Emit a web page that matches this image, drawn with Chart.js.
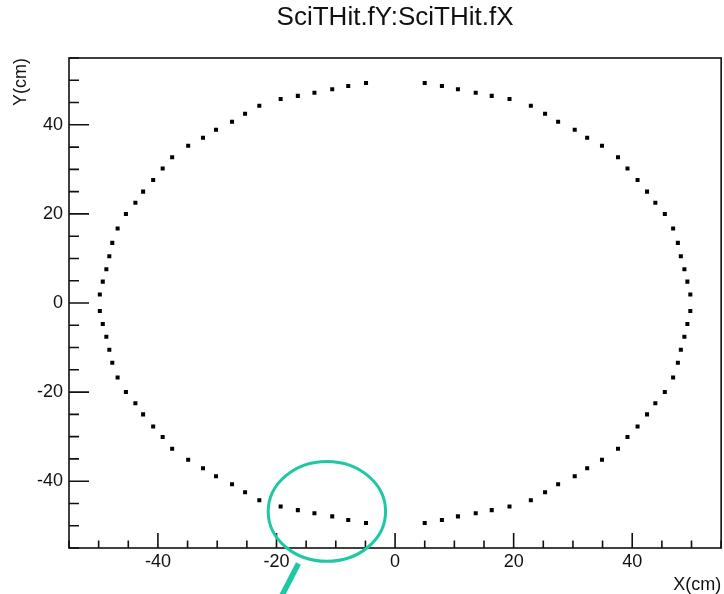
<!DOCTYPE html>
<html>
<head>
<meta charset="utf-8">
<script src="https://cdn.jsdelivr.net/npm/chart.js@4"></script>
<style>html,body{margin:0;padding:0;background:#fff}canvas{display:block}</style>
</head>
<body>
<canvas id="c" width="724" height="594"></canvas>
<script>
const chartTitle = 'SciTHit.fY:SciTHit.fX';
const xAxisTitle = 'X(cm)';
const yAxisTitle = 'Y(cm)';
const xTickValues = [-40, -20, 0, 20, 40];
const yTickValues = [-40, -20, 0, 20, 40];

// left half of the hit ring (top to bottom)
const leftX = [-4.9, -7.9, -10.6, -13.6, -16.4, -19.3, -22.9, -25.3, -27.5, -30.2, -32.4, -34.9,
  -37.6, -39.2, -40.8, -42.5, -43.8, -45.4, -46.8, -47.7, -48.2, -48.7, -49.3, -49.8,
  -49.8, -49.3, -48.7, -48.2, -47.7, -46.8, -45.4, -43.8, -42.5, -40.8, -39.2, -37.6,
  -34.9, -32.4, -30.2, -27.5, -25.3, -22.9, -19.3, -16.4, -13.6, -10.6, -7.9, -4.9];
const leftY = [49.4, 48.7, 48.0, 47.2, 46.5, 45.8, 44.3, 42.5, 40.7, 38.9, 37.1, 35.3,
  32.7, 30.2, 27.6, 25.0, 22.5, 20.0, 16.7, 13.5, 10.5, 7.6, 4.8, 1.9,
  -1.8, -4.7, -7.6, -10.5, -13.4, -16.7, -20.0, -22.5, -25.0, -27.7, -30.1, -32.7,
  -35.2, -37.1, -38.9, -40.7, -42.5, -44.3, -45.7, -46.5, -47.2, -47.9, -48.7, -49.4];
// right half of the hit ring (top to bottom)
const rightX = [5.0, 7.9, 10.6, 13.6, 16.3, 19.3, 22.9, 25.3, 27.5, 30.3, 32.4, 34.9,
  37.6, 39.2, 40.9, 42.5, 43.9, 45.5, 46.9, 47.7, 48.2, 48.8, 49.3, 49.8,
  49.8, 49.3, 48.8, 48.2, 47.7, 46.9, 45.5, 43.9, 42.5, 40.9, 39.2, 37.6,
  34.9, 32.4, 30.3, 27.5, 25.3, 22.9, 19.3, 16.3, 13.6, 10.6, 7.9, 5.0];
const rightY = [49.4, 48.7, 48.0, 47.2, 46.5, 45.8, 44.3, 42.5, 40.7, 38.9, 37.1, 35.3,
  32.7, 30.2, 27.6, 25.0, 22.5, 20.0, 16.7, 13.5, 10.5, 7.6, 4.8, 1.9,
  -1.8, -4.7, -7.6, -10.5, -13.4, -16.7, -20.0, -22.5, -25.0, -27.7, -30.1, -32.7,
  -35.2, -37.1, -38.9, -40.7, -42.5, -44.3, -45.7, -46.5, -47.2, -47.9, -48.7, -49.4];

// highlight annotation (data units)
const highlightEllipse = { cx: -11.5, cy: -46.8, rx: 9.9, ry: 11.2 };
const pointerLine = { x1: -16.3, y1: -58.5, x2: -19.8, y2: -67.5 };

const FONT = "'Liberation Sans', Arial, Helvetica, sans-serif";
const INK = '#111';
const TEAL = '#1ec8a2';

const points = leftX.map((x, i) => ({ x, y: leftY[i] }))
  .concat(rightX.map((x, i) => ({ x, y: rightY[i] })));

const frameTicks = {
  id: 'frameTicks',
  afterDatasetsDraw(chart) {
    const { ctx, chartArea: a, scales: { x, y } } = chart;
    ctx.save();
    ctx.strokeStyle = INK;
    ctx.lineWidth = 1.6;
    ctx.strokeRect(a.left, a.top, a.right - a.left, a.bottom - a.top);
    ctx.beginPath();
    for (let v = Math.ceil(x.min / 5) * 5; v <= x.max; v += 5) {
      const px = x.getPixelForValue(v);
      const len = (v % 20 === 0) ? 15 : 7.5;
      ctx.moveTo(px, a.bottom);
      ctx.lineTo(px, a.bottom - len);
    }
    for (let v = Math.ceil(y.min / 5) * 5; v <= y.max; v += 5) {
      const py = y.getPixelForValue(v);
      const len = (v % 20 === 0) ? 20 : 10;
      ctx.moveTo(a.left, py);
      ctx.lineTo(a.left + len, py);
    }
    ctx.stroke();

    // teal highlight
    const e = highlightEllipse;
    const ecx = x.getPixelForValue(e.cx), ecy = y.getPixelForValue(e.cy);
    const erx = Math.abs(x.getPixelForValue(e.cx + e.rx) - ecx);
    const ery = Math.abs(y.getPixelForValue(e.cy + e.ry) - ecy);
    ctx.strokeStyle = TEAL;
    ctx.lineWidth = 3;
    ctx.beginPath();
    ctx.ellipse(ecx, ecy, erx, ery, 0, 0, Math.PI * 2);
    ctx.stroke();
    ctx.lineWidth = 5.5;
    ctx.lineCap = 'butt';
    ctx.beginPath();
    ctx.moveTo(x.getPixelForValue(pointerLine.x1), y.getPixelForValue(pointerLine.y1));
    ctx.lineTo(x.getPixelForValue(pointerLine.x2), y.getPixelForValue(pointerLine.y2));
    ctx.stroke();
    ctx.restore();
  }
};

new Chart(document.getElementById('c'), {
  type: 'scatter',
  data: {
    datasets: [{
      data: points,
      pointStyle: 'rect',
      pointRadius: 2.85,
      pointHoverRadius: 2.85,
      pointBackgroundColor: '#000',
      pointBorderWidth: 0,
      showLine: false
    }]
  },
  options: {
    responsive: false,
    animation: false,
    events: [],
    layout: { padding: { left: 0, right: 1, top: 0, bottom: 0 } },
    plugins: {
      legend: { display: false },
      tooltip: { enabled: false },
      title: {
        display: true,
        fullSize: false,
        text: chartTitle,
        color: INK,
        font: { family: FONT, size: 26, weight: 'normal' },
        padding: { top: 2, bottom: 24.8 }
      }
    },
    scales: {
      x: {
        type: 'linear',
        min: -55, max: 55,
        grid: { display: false, drawTicks: false },
        border: { display: false },
        afterBuildTicks: s => { s.ticks = xTickValues.map(v => ({ value: v })); },
        afterFit: s => { s.height = 46; },
        ticks: { padding: 3, color: INK, autoSkip: false, maxRotation: 0, font: { family: FONT, size: 18 } },
        title: { display: true, text: xAxisTitle, align: 'end', color: INK,
                 font: { family: FONT, size: 18 }, padding: { top: 0, bottom: -2 } }
      },
      y: {
        type: 'linear',
        min: -55, max: 55,
        grid: { display: false, drawTicks: false },
        border: { display: false },
        afterBuildTicks: s => { s.ticks = yTickValues.map(v => ({ value: v })); },
        afterFit: s => { s.width = 69; },
        ticks: { padding: 6, color: INK, autoSkip: false, font: { family: FONT, size: 18 } },
        title: { display: true, text: yAxisTitle, align: 'end', color: INK,
                 font: { family: FONT, size: 18 }, padding: { top: 10.2, bottom: 0 } }
      }
    }
  },
  plugins: [frameTicks]
});
</script>
</body>
</html>
